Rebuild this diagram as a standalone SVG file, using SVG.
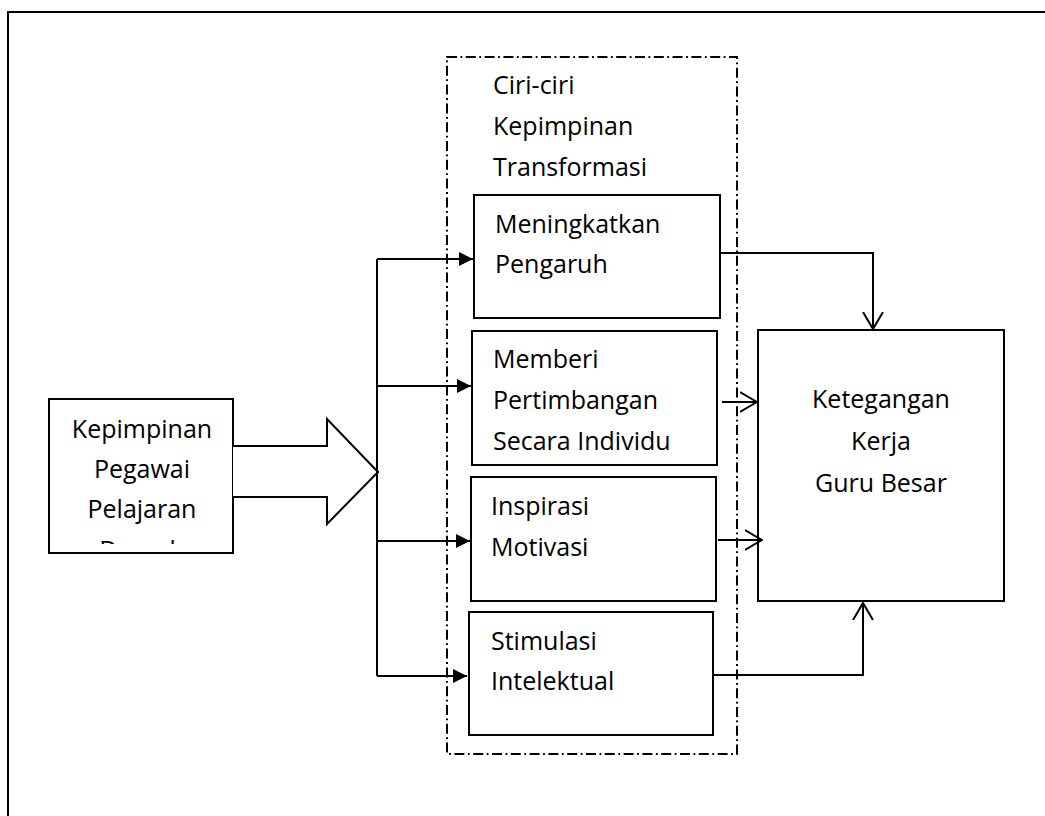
<svg xmlns="http://www.w3.org/2000/svg" width="1045" height="816" viewBox="0 0 1045 816">
<style>
  .box { fill: #fff; stroke: #000; stroke-width: 2; }
  .t { font-family: "Open Sans", "Noto Sans", sans-serif; font-size: 25px; fill: #000; }
  .c { text-anchor: middle; }
  .ln { fill: none; stroke: #000; stroke-width: 2; }
  .dd { fill: none; stroke: #000; stroke-width: 2; stroke-dasharray: 10 3.5 1.8 3.5; }
</style>
<defs>
  <marker id="fill" viewBox="0 0 14 14" refX="14" refY="7" markerWidth="14" markerHeight="14" markerUnits="userSpaceOnUse" orient="auto">
    <path d="M0,0 L14,7 L0,14 Z" fill="#000"/>
  </marker>
  <marker id="open" viewBox="0 0 18 22" refX="17" refY="11" markerWidth="18" markerHeight="22" markerUnits="userSpaceOnUse" orient="auto">
    <path d="M0,1 L17,11 L0,21" fill="none" stroke="#000" stroke-width="2"/>
  </marker>
  <clipPath id="clipLeft"><rect x="49" y="399" width="184" height="145"/></clipPath>
</defs>
<rect width="1045" height="816" fill="#fff"/>
<!-- outer frame -->
<rect x="8" y="12" width="1100" height="900" fill="none" stroke="#000" stroke-width="2"/>

<g id="group-ciri">
  <rect x="447" y="57" width="290" height="697" class="dd"/>
  <text class="t" x="493" y="94">Ciri-ciri</text>
  <text class="t" x="493" y="135">Kepimpinan</text>
  <text class="t" x="493" y="176">Transformasi</text>
</g>

<g id="node-left">
  <rect x="49" y="399" width="184" height="154" class="box"/>
  <g clip-path="url(#clipLeft)">
    <text class="t c" x="142" y="438">Kepimpinan</text>
    <text class="t c" x="142" y="478">Pegawai</text>
    <text class="t c" x="142" y="518">Pelajaran</text>
    <text class="t c" x="142" y="559">Daerah</text>
  </g>
</g>

<g id="node-arrow">
  <path d="M233,446 L327,446 L327,419 L378,472 L327,524 L327,497 L233,497" fill="#fff" stroke="#000" stroke-width="2"/>
</g>

<g id="node-1">
  <rect x="474" y="195" width="246" height="123" class="box"/>
  <text class="t" x="495" y="233">Meningkatkan</text>
  <text class="t" x="495" y="273">Pengaruh</text>
</g>

<g id="node-2">
  <rect x="472" y="331" width="245" height="134" class="box"/>
  <text class="t" x="493" y="368">Memberi</text>
  <text class="t" x="493" y="409">Pertimbangan</text>
  <text class="t" x="493" y="450">Secara Individu</text>
</g>

<g id="node-3">
  <rect x="471" y="477" width="245" height="124" class="box"/>
  <text class="t" x="491" y="515">Inspirasi</text>
  <text class="t" x="491" y="556">Motivasi</text>
</g>

<g id="node-4">
  <rect x="469" y="612" width="244" height="123" class="box"/>
  <text class="t" x="491" y="650">Stimulasi</text>
  <text class="t" x="491" y="690">Intelektual</text>
</g>

<g id="node-right">
  <rect x="758" y="330" width="246" height="271" class="box"/>
  <text class="t c" x="881" y="408">Ketegangan</text>
  <text class="t c" x="881" y="450">Kerja</text>
  <text class="t c" x="881" y="492">Guru Besar</text>
</g>

<g id="connectors">
  <path class="ln" d="M377,259 L377,676"/>
  <path class="ln" d="M377,259 L473,259" marker-end="url(#fill)"/>
  <path class="ln" d="M377,386 L471,386" marker-end="url(#fill)"/>
  <path class="ln" d="M377,541 L470,541" marker-end="url(#fill)"/>
  <path class="ln" d="M377,676 L467,676" marker-end="url(#fill)"/>

  <path class="ln" d="M720,253 L873,253 L873,329" marker-end="url(#open)"/>
  <path class="ln" d="M722,402 L757,402" marker-end="url(#open)"/>
  <path class="ln" d="M718,540 L762,540" marker-end="url(#open)"/>
  <path class="ln" d="M712,675 L863,675 L863,603" marker-end="url(#open)"/>
</g>
</svg>
